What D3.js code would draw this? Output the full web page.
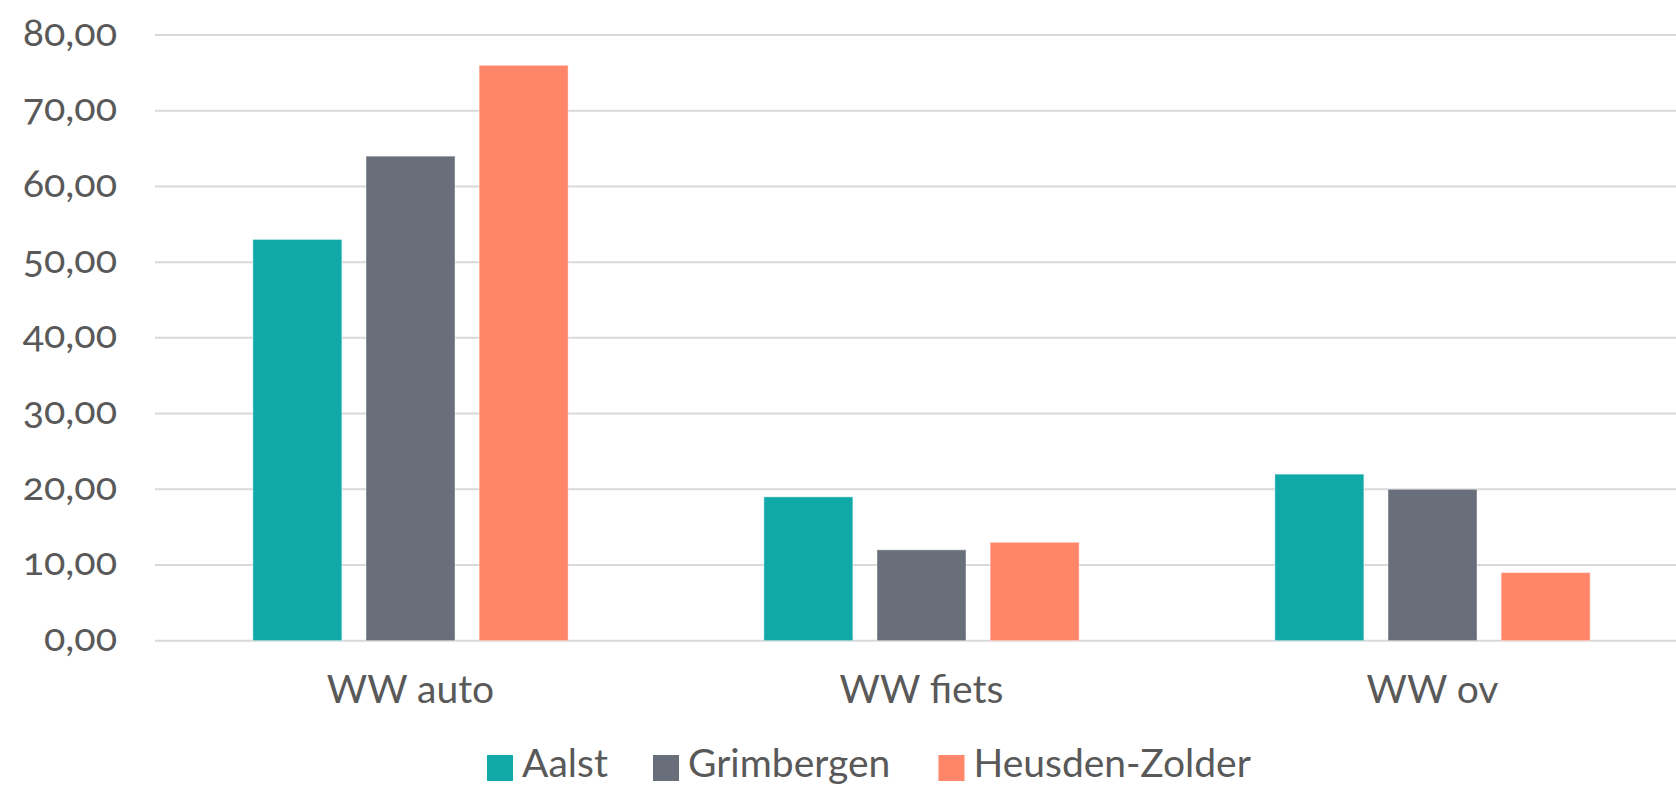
<!DOCTYPE html>
<html>
<head>
<meta charset="utf-8">
<script src="https://cdn.jsdelivr.net/npm/d3@7.9.0/dist/d3.min.js"></script>
<style>
  html, body { margin: 0; padding: 0; background: #fff; overflow: hidden; }
  svg text { font-family: Lato, "Open Sans", sans-serif; fill: #595959; font-variant-numeric: oldstyle-nums; }
</style>
</head>
<body>
<svg id="chart" width="1676" height="787"></svg>
<script>
// categories and series
const categories = ['WW auto', 'WW fiets', 'WW ov'];
const seriesNames = ['Aalst', 'Grimbergen', 'Heusden-Zolder'];
const seriesColors = ['#11a9a8', '#686e7a', '#ff8669'];

// values per series, in category order
const aalst = [53, 19, 22];
const grimbergen = [64, 12, 20];
const heusdenZolder = [76, 13, 9];

const yTicks = [0, 10, 20, 30, 40, 50, 60, 70, 80];

const seriesValues = [aalst, grimbergen, heusdenZolder];

const svg = d3.select('#chart');

const plot = { left: 155, right: 1688, top: 35, bottom: 640.7 };

const nl = d3.formatLocale({ decimal: ',', thousands: '.', grouping: [3], currency: ['€', ''] });
const fmt = nl.format('.2f');

const y = d3.scaleLinear().domain([0, 80]).range([plot.bottom, plot.top]);

const x0 = d3.scaleBand()
  .domain(categories)
  .range([plot.left, plot.right])
  .paddingInner(0.383)
  .paddingOuter(0.1915);

const x1 = d3.scaleBand()
  .domain(seriesNames)
  .range([0, x0.bandwidth()])
  .paddingInner(0.213)
  .paddingOuter(0);

// gridlines
svg.append('g')
  .selectAll('line')
  .data(yTicks)
  .join('line')
  .attr('x1', plot.left)
  .attr('x2', 1676)
  .attr('y1', d => y(d))
  .attr('y2', d => y(d))
  .attr('stroke', '#d9d9d9')
  .attr('stroke-width', 2);

// y axis labels
const yAxis = d3.axisLeft(y).tickValues(yTicks).tickFormat(fmt).tickSize(0).tickPadding(0);
const yg = svg.append('g')
  .attr('transform', 'translate(117,0)')
  .call(yAxis);
yg.select('.domain').remove();
yg.selectAll('text')
  .attr('font-family', null)
  .attr('font-size', null)
  .style('font-size', '39.5px')
  .attr('dy', '10');

// bars
const groups = svg.append('g')
  .selectAll('g')
  .data(categories)
  .join('g')
  .attr('transform', d => `translate(${x0(d)},0)`);

groups.selectAll('rect')
  .data((c, ci) => seriesNames.map((s, si) => ({ s, si, v: seriesValues[si][ci] })))
  .join('rect')
  .attr('x', d => x1(d.s))
  .attr('width', x1.bandwidth())
  .attr('y', d => y(d.v))
  .attr('height', d => y(0) - y(d.v))
  .attr('fill', d => seriesColors[d.si])
  .attr('stroke', 'rgba(255,255,255,0.45)')
  .attr('stroke-width', 1);

// category labels
const xAxis = d3.axisBottom(x0).tickSize(0).tickPadding(0);
const xg = svg.append('g')
  .attr('transform', 'translate(0,702.7)')
  .call(xAxis);
xg.select('.domain').remove();
xg.selectAll('text')
  .attr('font-family', null)
  .attr('font-size', null)
  .attr('y', 0)
  .attr('dy', 0)
  .style('font-size', '39px');

// legend
const legendX = [487, 653, 938.5];
const legend = svg.append('g')
  .selectAll('g')
  .data(seriesNames)
  .join('g')
  .attr('transform', (d, i) => `translate(${legendX[i]},0)`);

legend.append('rect')
  .attr('x', 0)
  .attr('y', 755)
  .attr('width', 26)
  .attr('height', 26)
  .attr('fill', (d, i) => seriesColors[i]);

legend.append('text')
  .attr('x', 35)
  .attr('y', 776.7)
  .style('font-size', '39px')
  .text(d => d);
</script>
</body>
</html>
